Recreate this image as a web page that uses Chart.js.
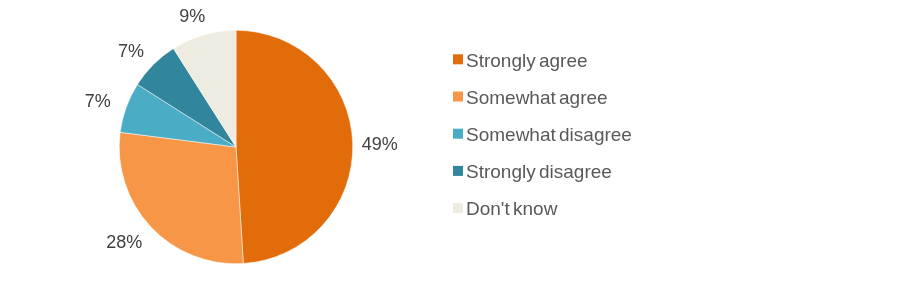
<!DOCTYPE html>
<html><head><meta charset="utf-8">
<script src="https://cdn.jsdelivr.net/npm/chart.js@4/dist/chart.umd.min.js"></script>
<style>html,body{margin:0;padding:0;background:#fff;}#wrap{width:900px;height:292px;position:relative;}</style>
</head><body><div id="wrap"><canvas id="c" width="900" height="292"></canvas></div>
<script>
const categories = ["Strongly agree","Somewhat agree","Somewhat disagree","Strongly disagree","Don't know"];
const values = [49, 28, 7, 7, 9];
const valueLabels = ["49%","28%","7%","7%","9%"];
const colors = ["#E36C0A","#F79646","#4BACC6","#31859C","#EEECE1"];

const labelPlugin = {
  id: 'outLabels',
  afterDatasetsDraw(chart) {
    const ctx = chart.ctx;
    const meta = chart.getDatasetMeta(0);
    ctx.save();
    ctx.font = '18px "Liberation Sans", Arial, sans-serif';
    ctx.fillStyle = '#404040';
    ctx.textAlign = 'center';
    ctx.textBaseline = 'middle';
    meta.data.forEach((arc, i) => {
      const p = arc.getProps(['x','y','startAngle','endAngle','outerRadius'], true);
      const mid = (p.startAngle + p.endAngle) / 2;
      const w = ctx.measureText(valueLabels[i]).width;
      const h = 16;
      const d = p.outerRadius + 13;
      const cx = p.x + Math.cos(mid) * d + Math.cos(mid) * w / 2;
      const cy = p.y + Math.sin(mid) * d + Math.sin(mid) * h / 2;
      ctx.fillText(valueLabels[i], cx - 4, cy + 2);
    });
    ctx.restore();
  }
};
const legendPlugin = {
  id: 'customLegend',
  afterDraw(chart) {
    const ctx = chart.ctx;
    ctx.save();
    ctx.font = '19px "Liberation Sans", Arial, sans-serif';
    try { ctx.wordSpacing = '-2px'; } catch (e) {}
    ctx.textBaseline = 'middle';
    categories.forEach((c, i) => {
      const y = 59.3 + i * 37.2;
      ctx.fillStyle = colors[i];
      ctx.fillRect(453, y - 5, 10, 10);
      ctx.fillStyle = '#595959';
      ctx.fillText(c, 466, y + 2);
    });
    ctx.restore();
  }
};

new Chart(document.getElementById('c'), {
  type: 'pie',
  data: { labels: categories, datasets: [{ data: values, backgroundColor: colors, borderColor: '#ffffff', borderWidth: 0.5 }] },
  options: {
    responsive: false,
    animation: false,
    rotation: 0,
    layout: { padding: { left: 119, top: 30, right: 547, bottom: 28 } },
    plugins: { legend: { display: false }, tooltip: { enabled: false } }
  },
  plugins: [labelPlugin, legendPlugin]
});
</script></body></html>
